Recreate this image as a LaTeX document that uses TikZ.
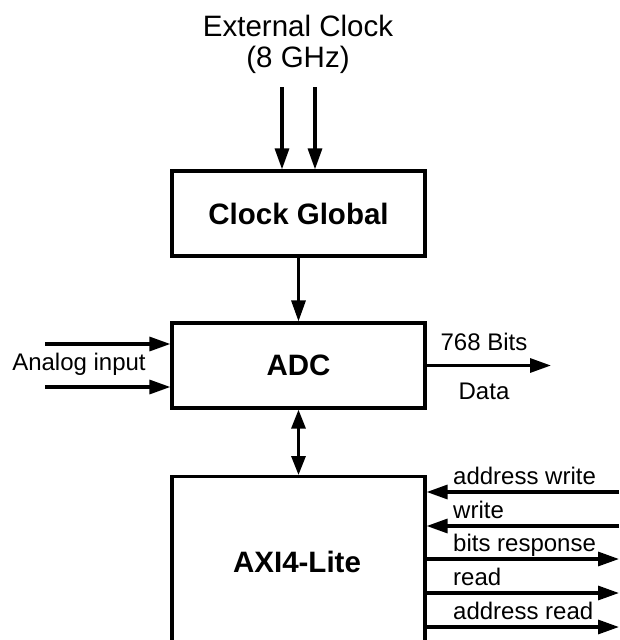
\documentclass[tikz,border=0pt]{standalone}
\usepackage{fontspec}
\setmainfont{Liberation Sans}
\usetikzlibrary{arrows.meta}
\begin{document}
\begin{tikzpicture}[x=1pt,y=-1pt,
  blk/.style={draw,line width=3.2pt,minimum width=253pt,minimum height=85pt,inner sep=0pt,font=\fontsize{29.5}{33}\selectfont\bfseries},
  lbl/.style={inner sep=0pt,font=\fontsize{24}{28}\selectfont},
  big/.style={inner sep=0pt,font=\fontsize{29.5}{31}\selectfont,align=center},
  sig/.style={line width=3.2pt,-{Triangle[length=21pt,width=14pt]}},
  dsig/.style={line width=3.2pt,{Triangle[length=19pt,width=14pt]}-{Triangle[length=19pt,width=14pt]}}]
\useasboundingbox (0,0) rectangle (619,640);
\clip (0,0) rectangle (619,640);
\fill[white] (0,0) rectangle (619,640);
% title
\node[big] (ext) at (298,44) {External Clock\\(8 GHz)};
% blocks
\node[blk] (clk) at (298.5,213.5) {Clock Global};
\node[blk] (adc) at (298.5,365.5) {ADC};
\node[blk,minimum height=260pt,anchor=north] (axi) at (298.5,475) {};
\node[inner sep=0pt,font=\fontsize{29.5}{33}\selectfont\bfseries] (axil) at (297,562) {AXI4-Lite};
% clock inputs
\coordinate (c1) at (282,87);
\coordinate (c2) at (315,87);
\draw[sig] (c1) -- (c1 |- clk.north);
\draw[sig] (c2) -- (c2 |- clk.north);
\draw[sig] (clk) -- (adc);
\draw[dsig] (adc) -- (adc |- axi.north);
% analog
\coordinate (a1) at (45,344);
\coordinate (a2) at (45,387);
\draw[sig] (a1) -- (a1 -| adc.west);
\draw[sig] (a2) -- (a2 -| adc.west);
\node[lbl] (alab) at (79,364) {Analog input};
% data out
\coordinate (dout) at (551,365.5);
\draw[sig] (adc) -- (dout);
\node[lbl] (bits) at (484,342) {768 Bits};
\node[lbl] (data) at (484,391) {Data};
% AXI signals
\coordinate (s1) at (619,492);
\coordinate (s2) at (619,526);
\coordinate (s3) at (619,559);
\coordinate (s4) at (619,593);
\coordinate (s5) at (619,627);
\draw[sig] (s1) -- (s1 -| axi.east);
\draw[sig] (s2) -- (s2 -| axi.east);
\draw[sig] (s3 -| axi.east) -- (s3);
\draw[sig] (s4 -| axi.east) -- (s4);
\draw[sig] (s5 -| axi.east) -- (s5);
\node[lbl,anchor=base west] (l1) at (453,484) {address write};
\node[lbl,anchor=base west] (l2) at (453,518) {write};
\node[lbl,anchor=base west] (l3) at (453,551) {bits response};
\node[lbl,anchor=base west] (l4) at (453,585) {read};
\node[lbl,anchor=base west] (l5) at (453,619) {address read};
\end{tikzpicture}
\end{document}
